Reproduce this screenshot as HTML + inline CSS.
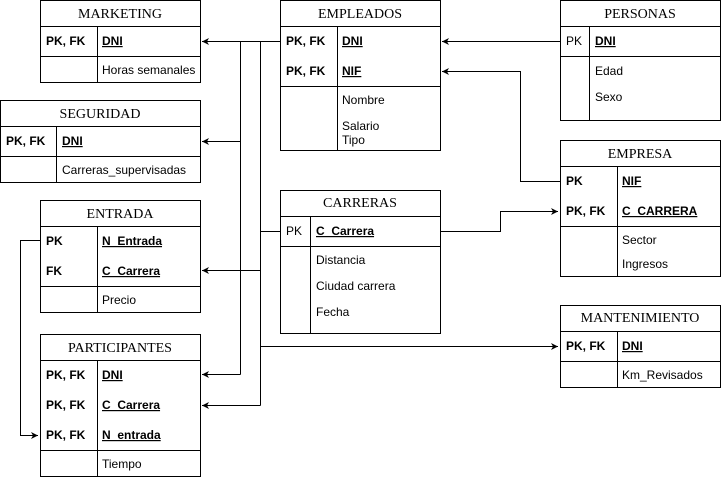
<!DOCTYPE html>
<html><head><style>body{margin:0;background:#fff}svg{display:block}</style></head><body>
<svg width="721" height="480" viewBox="0 0 721 480" xmlns="http://www.w3.org/2000/svg">
<defs><marker id="a" markerWidth="8" markerHeight="8" refX="7" refY="4" orient="auto" markerUnits="userSpaceOnUse"><path d="M0,0.5 L7,4 L0,7.5 L2,4 Z" fill="#000"/></marker></defs>
<g fill="none" stroke="#000" stroke-width="1">
<!-- MARKETING -->
<rect x="40.5" y="0.5" width="160" height="82"/><path d="M40 26.5H200M40 56.5H200M97.5 26V82"/>
<!-- SEGURIDAD -->
<rect x="0.5" y="100.5" width="200" height="82"/><path d="M0 126.5H200M0 156.5H200M56.5 126V182"/>
<!-- ENTRADA -->
<rect x="40.5" y="200.5" width="160" height="112"/><path d="M40 226.5H200M40 286.5H200M97.5 226V312"/>
<!-- PARTICIPANTES -->
<rect x="40.5" y="334.5" width="160" height="142"/><path d="M40 360.5H200M40 450.5H200M97.5 360V476"/>
<!-- EMPLEADOS -->
<rect x="280.5" y="0.5" width="160" height="150"/><path d="M280 26.5H440M280 86.5H440M337.5 26V150"/>
<!-- PERSONAS -->
<rect x="560.5" y="0.5" width="160" height="120"/><path d="M560 26.5H720M560 56.5H720M589.5 26V120"/>
<!-- EMPRESA -->
<rect x="560.5" y="140.5" width="160" height="136"/><path d="M560 166.5H720M560 226.5H720M617.5 166V276"/>
<!-- CARRERAS -->
<rect x="280.5" y="190.5" width="160" height="143"/><path d="M280 216.5H440M280 246.5H440M310.5 216V333"/>
<!-- MANTENIMIENTO -->
<rect x="560.5" y="305.5" width="160" height="82"/><path d="M560 331.5H720M560 361.5H720M617.5 331V387"/>
<!-- connectors -->
<path d="M280 41.5H240.5V374.5" /><path d="M260.5 41.5V405.5"/>
<path d="M240.5 41.5H202" marker-end="url(#a)"/>
<path d="M240.5 141.5H202" marker-end="url(#a)"/>
<path d="M240.5 374.5H202" marker-end="url(#a)"/>
<path d="M260.5 270.5H202" marker-end="url(#a)"/>
<path d="M260.5 405.5H202" marker-end="url(#a)"/>
<path d="M260.5 231.5H280"/>
<path d="M260.5 346.5H558" marker-end="url(#a)"/>
<path d="M40 240.5H20.5V435.5H38" marker-end="url(#a)"/>
<path d="M560 41.5H442" marker-end="url(#a)"/>
<path d="M560 181.5H520.5V71.5H442" marker-end="url(#a)"/>
<path d="M440 231.5H500.5V211.5H558" marker-end="url(#a)"/>
</g>
<g font-family="Liberation Serif, serif" font-size="14" text-anchor="middle" fill="#000">
<text x="120" y="18">MARKETING</text><text x="100" y="118">SEGURIDAD</text><text x="120" y="218">ENTRADA</text>
<text x="120" y="352">PARTICIPANTES</text><text x="360" y="18">EMPLEADOS</text><text x="640" y="18">PERSONAS</text>
<text x="640" y="158">EMPRESA</text><text x="360" y="207">CARRERAS</text><text x="640" y="322">MANTENIMIENTO</text>
</g>
<g font-family="Liberation Sans, sans-serif" font-size="12" fill="#000">
<g font-weight="bold">
<text x="46" y="45">PK, FK</text><text x="6" y="145">PK, FK</text><text x="46" y="245">PK</text><text x="46" y="275">FK</text>
<text x="46" y="379">PK, FK</text><text x="46" y="409">PK, FK</text><text x="46" y="439">PK, FK</text>
<text x="286" y="45">PK, FK</text><text x="286" y="75">PK, FK</text>
<text x="566" y="185">PK</text><text x="566" y="215">PK, FK</text><text x="566" y="350">PK, FK</text>
<g text-decoration="underline">
<text x="102" y="45">DNI</text><text x="62" y="145">DNI</text><text x="102" y="245">N_Entrada</text><text x="102" y="275">C_Carrera</text>
<text x="102" y="379">DNI</text><text x="102" y="409">C_Carrera</text><text x="102" y="439">N_entrada</text>
<text x="342" y="45">DNI</text><text x="342" y="75">NIF</text><text x="595" y="45">DNI</text>
<text x="622" y="185">NIF</text><text x="622" y="215">C_CARRERA</text><text x="316" y="235">C_Carrera</text><text x="622" y="350">DNI</text>
</g></g>
<text x="566" y="45">PK</text><text x="286" y="235">PK</text>
<text x="102" y="74">Horas semanales</text><text x="62" y="174">Carreras_supervisadas</text><text x="102" y="304">Precio</text>
<text x="102" y="468">Tiempo</text><text x="342" y="104">Nombre</text><text x="342" y="130">Salario</text><text x="342" y="144">Tipo</text>
<text x="595" y="75">Edad</text><text x="595" y="101">Sexo</text><text x="622" y="244">Sector</text><text x="622" y="268">Ingresos</text>
<text x="316" y="264">Distancia</text><text x="316" y="290">Ciudad carrera</text><text x="316" y="316">Fecha</text>
<text x="622" y="379">Km_Revisados</text>
</g>
</svg>
</body></html>
